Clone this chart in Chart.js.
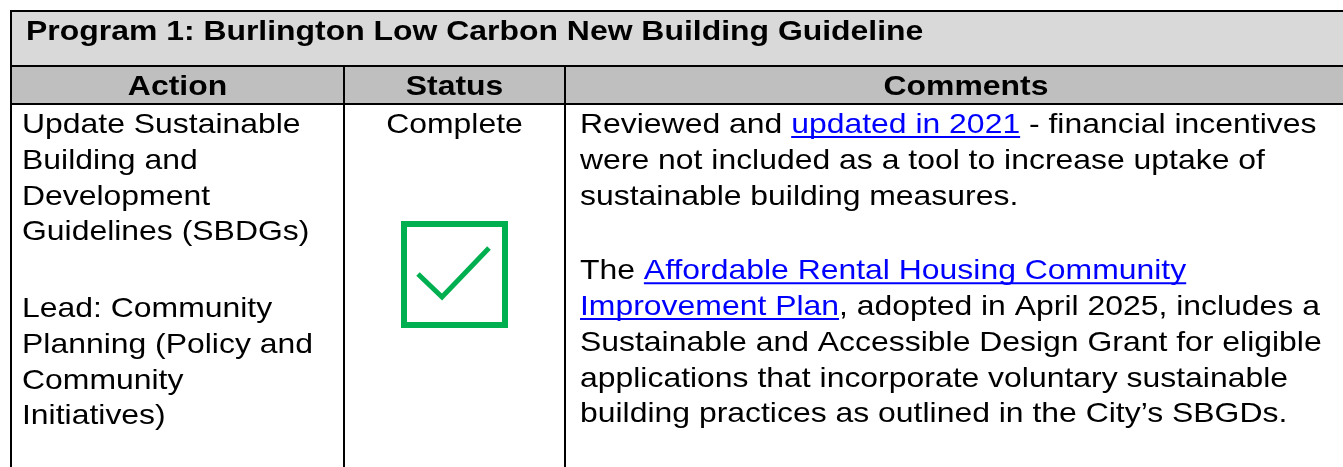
<!DOCTYPE html>
<html>
<head>
<meta charset="utf-8">
<script src="https://cdn.jsdelivr.net/npm/chart.js@4"></script>
<style>
  html, body { margin: 0; padding: 0; background: #fff; }
  #table { display: block; }
</style>
</head>
<body>
<canvas id="table" width="1343" height="467"></canvas>
<script>
// table content
const title = 'Program 1: Burlington Low Carbon New Building Guideline';
const headers = ['Action', 'Status', 'Comments'];
const actionParas = [
    ['Update Sustainable', 'Building and', 'Development', 'Guidelines (SBDGs)'],
    ['Lead: Community', 'Planning (Policy and', 'Community', 'Initiatives)']
];
const statusText = 'Complete';
// [ ] marks hyperlinked text
const commentParas = [
    ['Reviewed and [updated in 2021] - financial incentives',
     'were not included as a tool to increase uptake of',
     'sustainable building measures.'],
    ['The [Affordable Rental Housing Community]',
     '[Improvement Plan], adopted in April 2025, includes a',
     'Sustainable and Accessible Design Grant for eligible',
     'applications that incorporate voluntary sustainable',
     'building practices as outlined in the City\u2019s SBGDs.']
];

// layout (in canvas units, mapped through the chart scales)
const colEdges = [11, 344, 565, 1367];
const rowEdges = [11, 66, 104, 480];
const lineH = 35.75;
const FONT = '"Liberation Sans", Arial, sans-serif';
const SX = 1.14; // the source text is a little wide

function stretchText(ctx, t, x, y) {
    ctx.save();
    ctx.translate(x, y);
    ctx.scale(SX, 1);
    ctx.fillText(t, 0, 0);
    ctx.restore();
}

function drawRich(ctx, text, x, y, color) {
    const parts = text.split(/(\[[^\]]*\])/).filter(p => p.length);
    parts.forEach(p => {
        const link = p.startsWith('[');
        const t = link ? p.slice(1, -1) : p;
        const w = ctx.measureText(t).width * SX;
        ctx.fillStyle = link ? '#0000ff' : color;
        stretchText(ctx, t, x, y);
        if (link) {
            ctx.fillRect(x, y + 3, w, 2);
        }
        x += w;
    });
}

function drawParas(ctx, paras, x, y0, gaps) {
    let y = y0;
    paras.forEach((lines, pi) => {
        lines.forEach(l => {
            drawRich(ctx, l, x, y, '#000');
            y += lineH;
        });
        y += gaps[pi] || 0;
    });
}

const tablePlugin = {
    id: 'tablePlugin',
    afterDraw(chart) {
        const ctx = chart.ctx;
        const xs = chart.scales.x, ys = chart.scales.y;
        const X = v => xs.getPixelForValue(v);
        const Y = v => ys.getPixelForValue(v);
        ctx.save();

        // backgrounds
        ctx.fillStyle = '#d9d9d9';
        ctx.fillRect(X(colEdges[0]), Y(rowEdges[0]), X(colEdges[3]) - X(colEdges[0]), Y(rowEdges[1]) - Y(rowEdges[0]));
        ctx.fillStyle = '#bfbfbf';
        ctx.fillRect(X(colEdges[0]), Y(rowEdges[1]), X(colEdges[3]) - X(colEdges[0]), Y(rowEdges[2]) - Y(rowEdges[1]));

        // grid lines
        ctx.strokeStyle = '#000';
        ctx.lineWidth = 2;
        ctx.beginPath();
        for (let r = 0; r < 3; r++) {
            ctx.moveTo(X(colEdges[0]) - 1, Y(rowEdges[r]));
            ctx.lineTo(X(colEdges[3]), Y(rowEdges[r]));
        }
        ctx.moveTo(X(colEdges[0]), Y(rowEdges[0]));
        ctx.lineTo(X(colEdges[0]), Y(rowEdges[3]));
        for (let c = 1; c < 3; c++) {
            ctx.moveTo(X(colEdges[c]), Y(rowEdges[1]));
            ctx.lineTo(X(colEdges[c]), Y(rowEdges[3]));
        }
        ctx.stroke();

        // title
        ctx.textBaseline = 'alphabetic';
        ctx.fillStyle = '#000';
        ctx.font = 'bold 28px ' + FONT;
        ctx.textAlign = 'left';
        stretchText(ctx, title, X(26), Y(40));

        // headers
        ctx.textAlign = 'center';
        headers.forEach((h, i) => {
            stretchText(ctx, h, (X(colEdges[i]) + X(colEdges[i + 1])) / 2, Y(95));
        });

        // body
        ctx.font = '28px ' + FONT;
        ctx.textAlign = 'left';
        const base = rowEdges[2] + 29;
        drawParas(ctx, actionParas, X(22), Y(base), [41]);
        ctx.textAlign = 'center';
        const cx = (X(colEdges[1]) + X(colEdges[2])) / 2;
        stretchText(ctx, statusText, cx, Y(base));
        ctx.textAlign = 'left';
        drawParas(ctx, commentParas, X(580), Y(base), [39]);

        // check box
        const cy = Y(274.5);
        ctx.strokeStyle = '#00b050';
        ctx.lineWidth = 6;
        ctx.strokeRect(cx - 50.5, cy - 50.5, 101, 101);
        ctx.lineWidth = 5;
        ctx.lineJoin = 'miter';
        ctx.beginPath();
        ctx.moveTo(cx - 36.5, cy - 0.5);
        ctx.lineTo(cx - 12.5, cy + 22.5);
        ctx.lineTo(cx + 34.5, cy - 26.5);
        ctx.stroke();

        ctx.restore();
    }
};

new Chart(document.getElementById('table'), {
    type: 'scatter',
    data: { datasets: [{ data: [] }] },
    options: {
        responsive: false,
        animation: false,
        devicePixelRatio: 1,
        layout: { padding: 0 },
        plugins: { legend: { display: false }, tooltip: { enabled: false } },
        scales: {
            x: { type: 'linear', min: 0, max: 1343, display: false },
            y: { type: 'linear', min: 0, max: 467, reverse: true, display: false }
        }
    },
    plugins: [tablePlugin]
});
</script>
</body>
</html>
